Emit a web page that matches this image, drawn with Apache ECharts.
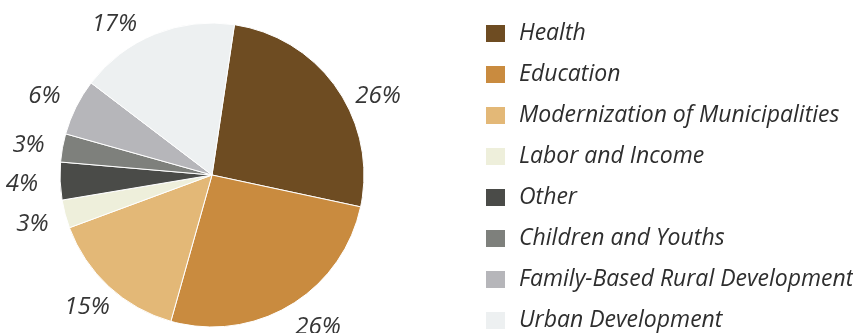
<!DOCTYPE html>
<html>
<head>
<meta charset="utf-8">
<script src="https://cdn.jsdelivr.net/npm/echarts@6/dist/echarts.min.js"></script>
<style>
  html, body { margin: 0; padding: 0; background: #ffffff; }
  #chart { width: 853px; height: 333px; }
</style>
</head>
<body>
<div id="chart"></div>
<script>
// Share of spending by program area (percent)
const categories = [
  'Health',
  'Education',
  'Modernization of Municipalities',
  'Labor and Income',
  'Other',
  'Children and Youths',
  'Family-Based Rural Development',
  'Urban Development'
];
const shares = [26, 26, 15, 3, 4, 3, 6, 17];
const colors = ['#6e4c22', '#c98b3f', '#e3b877', '#eeefdb', '#4a4b48', '#7e807c', '#b6b6ba', '#edf0f1'];

// Small hand adjustments so the percentage labels sit clear of each other
const labelNudge = [[1, 16], [-8, 9], [16, 9], [3, 6], [-2, 2], [2, 0], [3, -4], [-7, 4]];

const chart = echarts.init(document.getElementById('chart'));
chart.setOption({
  backgroundColor: '#ffffff',
  color: colors,
  legend: {
    orient: 'vertical',
    left: 484,
    top: 22,
    bottom: 0,
    padding: 0,
    itemWidth: 21,
    itemHeight: 19,
    itemGap: 18,
    icon: 'rect',
    data: categories,
    textStyle: {
      fontFamily: 'Open Sans',
      fontStyle: 'italic',
      fontSize: 23,
      color: '#2e2e2e',
      padding: [0, 0, 0, 8]
    }
  },
  series: [{
    type: 'pie',
    center: [212, 175],
    radius: 152,
    startAngle: 81.5,
    clockwise: true,
    avoidLabelOverlap: false,
    itemStyle: { borderColor: '#ffffff', borderWidth: 1 },
    label: {
      show: true,
      position: 'outside',
      formatter: '{c}%',
      fontFamily: 'Open Sans',
      fontStyle: 'italic',
      fontSize: 24,
      color: '#363636'
    },
    labelLine: { show: false, length: 15, length2: 0 },
    labelLayout: function (params) {
      const n = labelNudge[params.dataIndex] || [0, 0];
      return { dx: n[0], dy: n[1] };
    },
    emphasis: { disabled: true },
    data: categories.map((name, i) => ({ name, value: shares[i] }))
  }]
});
</script>
</body>
</html>
